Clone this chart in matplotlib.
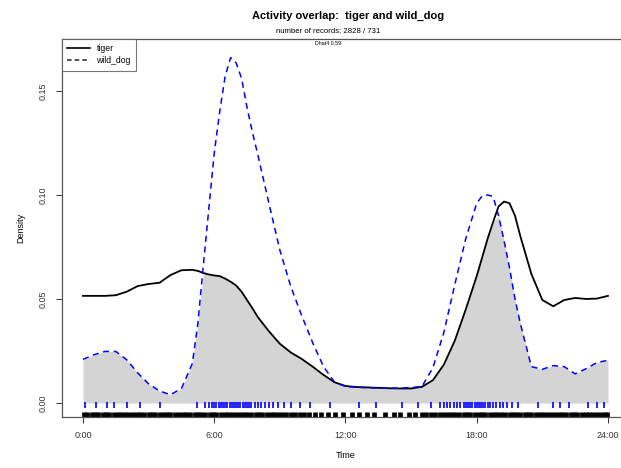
import numpy as np
import matplotlib
matplotlib.use('Agg')
import matplotlib.pyplot as plt
from matplotlib.lines import Line2D

plt.rcParams['font.family'] = ['Liberation Sans', 'DejaVu Sans']

# kernel density estimates on a shared time grid (hours)
hours = [0, 0.5, 1, 1.5, 2, 2.5, 3, 3.5, 4, 4.5, 5, 5.25, 5.5, 5.75, 6, 6.25,
         6.5, 6.75, 7, 7.25, 7.5, 7.75, 8, 8.5, 9, 9.5, 10, 10.5, 11, 11.5,
         12, 12.5, 13, 13.5, 14, 14.5, 15, 15.5, 16, 16.5, 17, 17.5, 18,
         18.25, 18.5, 18.75, 19, 19.25, 19.5, 19.75, 20, 20.5, 21, 21.5, 22,
         22.5, 23, 23.5, 24]

tiger = [0.0515, 0.0515, 0.0515, 0.0518, 0.0535, 0.0562, 0.0572, 0.0578,
         0.0615, 0.0638, 0.0640, 0.0635, 0.0625, 0.0618, 0.0613, 0.0610,
         0.0598, 0.0583, 0.0565, 0.0535, 0.0495, 0.0455, 0.0412, 0.0345,
         0.0285, 0.0243, 0.0212, 0.0175, 0.0135, 0.0100, 0.0082, 0.0077,
         0.0075, 0.0073, 0.0071, 0.0070, 0.0070, 0.0078, 0.0110, 0.0185,
         0.0300, 0.0450, 0.0610, 0.0700, 0.0790, 0.0870, 0.0945, 0.0968,
         0.0960, 0.0900, 0.0800, 0.0620, 0.0495, 0.0465, 0.0495, 0.0505,
         0.0500, 0.0502, 0.0515]

wild_dog = [0.0210, 0.0232, 0.0248, 0.0248, 0.0208, 0.0145, 0.0092, 0.0058,
            0.0040, 0.0070, 0.0190, 0.0380, 0.0660, 0.0930, 0.1200, 0.1400,
            0.1570, 0.1660, 0.1635, 0.1560, 0.1420, 0.1300, 0.1190, 0.0960,
            0.0735, 0.0560, 0.0420, 0.0290, 0.0175, 0.0100, 0.0080, 0.0076,
            0.0074, 0.0072, 0.0071, 0.0072, 0.0074, 0.0080, 0.0170, 0.0340,
            0.0570, 0.0790, 0.0960, 0.0995, 0.1000, 0.0992, 0.0900, 0.0780,
            0.0650, 0.0500, 0.0380, 0.0175, 0.0162, 0.0180, 0.0175, 0.0140,
            0.0165, 0.0195, 0.0205]

# detection times used for the rugs
tiger_times = [0.05, 0.2, 0.4, 0.55, 0.7, 0.9, 1.05, 1.2, 1.4, 1.6, 1.75, 1.9,
               2.1, 2.3, 2.45, 2.6, 2.8, 3.0, 3.15, 3.3, 3.5, 3.7, 3.85, 4.0,
               4.2, 4.4, 4.55, 4.7, 4.9, 5.1, 5.25, 5.4, 5.6, 5.8, 5.95, 6.1,
               6.3, 6.5, 6.65, 6.8, 7.0, 7.2, 7.35, 7.5, 7.7, 7.9, 8.05, 8.2,
               8.4, 8.6, 8.75, 8.9, 9.1, 9.3, 9.5, 9.7, 9.9, 10.1, 10.35,
               10.6, 10.9, 11.2, 11.5, 11.9, 12.3, 12.6, 13.0, 13.3, 13.8,
               14.2, 14.5, 14.9, 15.2, 15.5, 15.7, 15.9, 16.1, 16.3, 16.5,
               16.7, 16.85, 17.0, 17.2, 17.4, 17.55, 17.7, 17.9, 18.1, 18.25,
               18.4, 18.6, 18.8, 18.95, 19.1, 19.3, 19.5, 19.65, 19.8, 20.0,
               20.2, 20.35, 20.5, 20.7, 20.9, 21.05, 21.2, 21.4, 21.6, 21.75,
               21.9, 22.1, 22.3, 22.45, 22.6, 22.8, 23.0, 23.15, 23.3, 23.5,
               23.7, 23.85, 23.95]

dog_times = [0.1, 0.6, 1.1, 1.4, 2.0, 2.6, 3.5, 5.2, 5.6, 5.75, 5.9, 6.0,
             6.1, 6.2, 6.3, 6.4, 6.5, 6.6, 6.7, 6.8, 6.9, 7.0, 7.1, 7.2, 7.3,
             7.4, 7.5, 7.6, 7.7, 7.85, 8.0, 8.15, 8.3, 8.5, 8.7, 8.9, 9.2,
             9.5, 9.9, 10.4, 11.3, 12.6, 13.4, 14.6, 15.3, 15.9, 16.3, 16.5,
             16.65, 16.8, 16.95, 17.1, 17.25, 17.4, 17.5, 17.6, 17.7, 17.8,
             17.9, 18.0, 18.1, 18.2, 18.3, 18.4, 18.5, 18.6, 18.75, 18.9,
             19.05, 19.2, 19.4, 19.6, 19.9, 20.8, 21.5, 21.8, 22.2, 23.1,
             23.5, 23.8]

x_ticks = [0, 6, 12, 18, 24]
x_labels = ['0:00', '6:00', '12:00', '18:00', '24:00']
y_ticks = [0.00, 0.05, 0.10, 0.15]

fig = plt.figure(figsize=(6.21, 4.68), dpi=100)
ax = fig.add_axes([0.0998, 0.109, 0.913, 0.808])

overlap = np.minimum(tiger, wild_dog)
ax.fill_between(hours, 0, overlap, color='#d4d4d4', lw=0, zorder=1)

ax.plot(hours, tiger, color='black', lw=1.3, zorder=3)
ax.plot(hours, wild_dog, color='blue', lw=1.1, ls=(0, (4, 3)), zorder=3)

# rugs: tiger at the bottom, wild dog just above
ax.vlines(tiger_times, -0.0068, -0.0044, color='black', lw=3.4, zorder=2)
ax.vlines(dog_times, -0.0026, 0.0005, color='blue', lw=1.2, zorder=2)

ax.set_xlim(-0.96, 24.96)
ax.set_ylim(-0.0067, 0.175)
ax.set_xticks(x_ticks)
ax.set_xticklabels(x_labels)
ax.set_yticks(y_ticks)
ax.set_yticklabels(['%.2f' % v for v in y_ticks], rotation=90, va='center')
ax.tick_params(axis='both', labelsize=6.5, direction='out', length=4,
               width=0.7, colors='#333333', pad=6)
for sp in ax.spines.values():
    sp.set_color('#555555')
    sp.set_linewidth(0.9)

ax.set_xlabel('Time', fontsize=6.5, labelpad=8)
ax.set_ylabel('Density', fontsize=6.5, labelpad=10)

fig.text(0.56, 0.966, 'Activity overlap:  tiger and wild_dog', ha='center',
         va='center', fontsize=8, fontweight='bold')
fig.text(0.529, 0.933, 'number of records: 2828 / 731', ha='center',
         va='center', fontsize=5.6)
fig.text(0.529, 0.908, 'Dhat4 0.59', ha='center', va='center', fontsize=3.8)

handles = [Line2D([], [], color='black', lw=1.2),
           Line2D([], [], color='#222222', lw=1.1, ls=(0, (3, 2)))]
leg = ax.legend(handles, ['tiger', 'wild_dog'], loc='upper left',
                fontsize=6.2, frameon=True, fancybox=False,
                borderaxespad=0.0, handlelength=2.6, borderpad=0.6,
                labelspacing=0.4)
leg.get_frame().set_edgecolor('#555555')
leg.get_frame().set_linewidth(0.8)

fig.savefig('out.png', dpi=100)
